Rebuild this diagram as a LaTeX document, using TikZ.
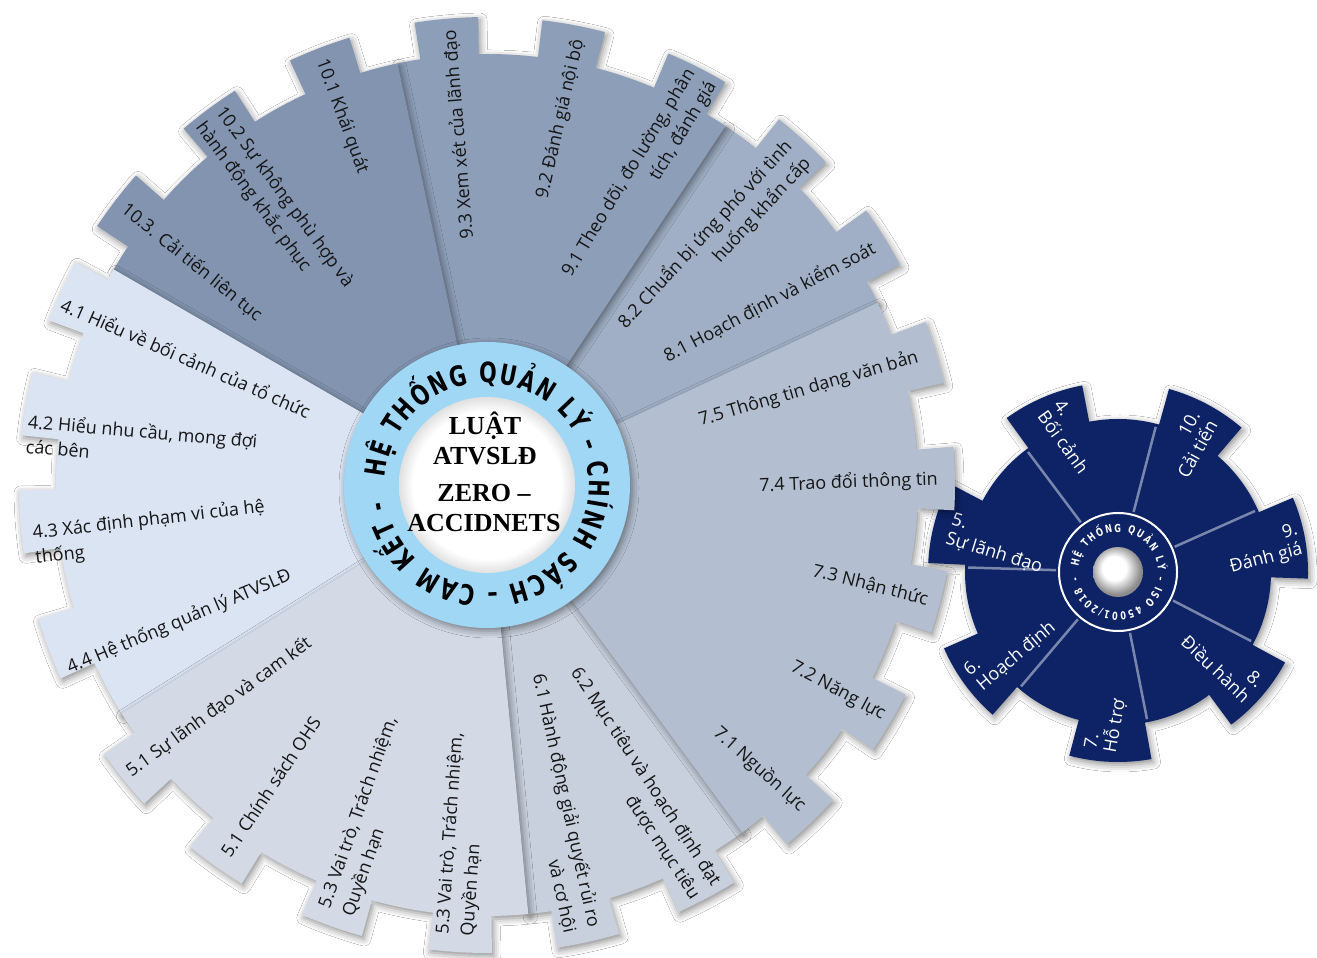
\documentclass[tikz,border=0pt]{standalone}
\usepackage{fontspec}
\setmainfont{Open Sans}
\newfontfamily\ringfont{DejaVu Sans}[FakeStretch=0.74]
\newfontfamily\ctrfont{Liberation Serif}
\usetikzlibrary{shadows.blur,decorations.text}
\definecolor{gfour}{HTML}{DBE4F3}
\definecolor{gfive}{HTML}{D3DAE6}
\definecolor{gsix}{HTML}{C8D0DD}
\definecolor{gseven}{HTML}{B3BFD0}
\definecolor{geight}{HTML}{A0AFC5}
\definecolor{gnine}{HTML}{8D9EB8}
\definecolor{gten}{HTML}{8294AF}
\definecolor{ringblue}{HTML}{A0D7F5}
\definecolor{navy}{HTML}{0D2366}
\definecolor{labtext}{HTML}{151515}
\pgfdeclareradialshading{innerglow}{\pgfpoint{0bp}{0bp}}{color(0bp)=(white); color(21bp)=(white); color(25bp)=(black!12); color(50bp)=(black!12)}
\pgfdeclareradialshading{button}{\pgfpoint{-5bp}{5bp}}{color(0bp)=(white); color(12bp)=(white); color(25bp)=(black!45); color(50bp)=(black!45)}
\newcommand\gearsector[4]{%
  \path[#1] (0,0) -- (#2:431) arc[start angle=#2, end angle=#3, radius=431] -- cycle
  foreach \ang in {#4} {
    (\ang-3.9:424) -- (\ang-3.9:468)
    arc[start angle=\ang-3.9, end angle=\ang+3.9, radius=468]
    -- (\ang+3.9:424)
    arc[start angle=\ang+3.9, end angle=\ang-3.9, radius=424] -- cycle
  };%
}
\begin{document}
\begin{tikzpicture}[x=1pt,y=1pt,
  gshadow/.style={blur shadow={shadow xshift=2pt,shadow yshift=-3pt,shadow blur radius=7pt,shadow opacity=45}},
  lab/.style={font=\fontsize{18}{25}\selectfont, text=labtext, inner sep=0pt},
  labr/.style={lab, anchor=east, align=right},
  labl/.style={lab, anchor=west, align=left},
  slab/.style={font=\fontsize{18}{20}\selectfont, text=white, inner sep=0pt},
  slabr/.style={slab, anchor=east, align=right},
  slabl/.style={slab, anchor=west, align=left},
  ctr/.style={font=\ctrfont\bfseries\fontsize{26}{30}\selectfont, align=center, inner sep=0pt, text=black}]
\useasboundingbox (0,0) rectangle (1317,958);
\fill[white] (0,0) rectangle (1317,958);

% ---------- small gear ----------
\begin{scope}[shift={(1118,386)}]
 \path[fill=navy, gshadow] (0,0) circle (153)
   foreach \ang in {10.5,61.93,113.36,164.79,216.21,267.64,319.07} {
    (\ang-12.5:148) -- (\ang-12.5:190)
    arc[start angle=\ang-12.5, end angle=\ang+12.5, radius=190]
    -- (\ang+12.5:148)
    arc[start angle=\ang+12.5, end angle=\ang-12.5, radius=148] -- cycle};
 \foreach \a in {24,75.43,126.86,178.29,229.71,281.14,332.57}
   \draw[white, opacity=0.45, line width=2.5pt] (\a:62) -- (\a:150);
 \path[fill=navy, draw=white, line width=2pt] (0,0) circle (59);
 \path[decorate, decoration={text along path, text align={fit to path}, text color=white,
   text={|\ringfont\bfseries\fontsize{11}{11}\selectfont|HỆ THỐNG QUẢN LÝ – ISO 45001/2018 -}}]
   (172:40) arc[start angle=172, end angle=-172, radius=40];
 \shade[shading=button] (0,0) circle (25);
\end{scope}

\node[slabl, rotate=-54] (s4) at (1050,551) {4.\\Bối cảnh};
\node[slabr, rotate=61] (s10) at (1204,541) {10.\\Cải tiến};
\node[slabr, rotate=14.6] (s9) at (1300,418) {9.\\Đánh giá};
\node[slabr, rotate=-43.7] (s8) at (1254,266) {8.\\Điều hành};
\node[slabl, rotate=80] (s7) at (1101,207) {7.\\Hỗ trợ};
\node[slabl, rotate=40] (s6) at (973,278) {6.\\Hoạch định};
\node[slabl, rotate=-17] (s5) at (949,429) {5.\\Sự lãnh đạo};

% ---------- big gear ----------
\begin{scope}[shift={(487,473)}]
 \gearsector{fill=gsix, gshadow}{275.5}{306.3}{282.5,298}
 \gearsector{fill=geight, gshadow}{25}{56.4}{32,47.5}
 \gearsector{fill=gseven, gshadow}{306.3}{385}{313.8,329.5,345.5,360.8,376.5}
 \gearsector{fill=gnine, gshadow}{56.4}{102}{63.3,79.3,95}
 \gearsector{fill=gten, gshadow}{102}{150}{111,126.5,142.5}
 \gearsector{fill=gfour, gshadow}{150}{212}{155.5,170,184.5,200.5}
 \gearsector{fill=gfive, gshadow}{212}{275.5}{219,234.5,250.6,266.7}
 \path[fill=ringblue, gshadow] (0,0) circle (143);
 \shade[shading=innerglow] (0,0) circle (88);
 \path[decorate, decoration={text along path, text align={fit to path}, text color=black,
   text={|\ringfont\bfseries\fontsize{28}{28}\selectfont|HỆ THỐNG QUẢN LÝ – CHÍNH SÁCH – CAM KẾT -}}]
   (176:102) arc[start angle=176, end angle=-171, radius=102];
\end{scope}

\node[ctr] (ctra) at (485,520) {LUẬT\\ATVSLĐ};
\node[ctr] (ctrb) at (484,450) {ZERO –\\ACCIDNETS};

\node[labr, rotate=16.3] (l75) at (918,601) {7.5 Thông tin dạng văn bản};
\node[labr, rotate=2.2] (l74) at (938,479) {7.4 Trao đổi thông tin};
\node[labr, rotate=-14.1] (l73) at (928,358) {7.3 Nhận thức};
\node[labr, rotate=-28.3] (l72) at (884,242) {7.2 Năng lực};
\node[labr, rotate=-41.6] (l71) at (803,150) {7.1 Nguồn lực};
\node[labr, rotate=27.7] (l81) at (874,711) {8.1 Hoạch định và kiểm soát};
\node[labr, rotate=47.4] (l82) at (798,806) {8.2 Chuẩn bị ứng phó với tình\\huống khẩn cấp};
\node[labr, rotate=58.8] (l91) at (702,881) {9.1 Theo dõi, đo lường, phân\\tích, đánh giá};
\node[labr, rotate=77.1] (l92) at (579,918) {9.2 Đánh giá nội bộ};
\node[labr, rotate=94.7] (l93) at (450,928) {9.3 Xem xét của lãnh đạo};
\node[labr, rotate=-77.6] (l61) at (582,28) {6.1 Hành động giải quyết rủi ro\\và cơ hội};
\node[labr, rotate=-56.6] (l62) at (706,67) {6.2 Mục tiêu và hoạch định đạt\\được mục tiêu};
\node[labl, rotate=-69.7] (l101) at (321,898) {10.1 Khái quát};
\node[labl, rotate=-53.5] (l102) at (209,841) {10.2 Sự không phù hợp và\\hành động khắc phục};
\node[labl, rotate=-39.1] (l103) at (124,751) {10.3. Cải tiến liên tục};
\node[labl, rotate=-23.7] (l41) at (62,655) {4.1 Hiểu về bối cảnh của tổ chức};
\node[labl, rotate=-4.9] (l42) at (27,525) {4.2 Hiểu nhu cầu, mong đợi\\các bên};
\node[labl, rotate=6.5] (l43) at (34,412) {4.3 Xác định phạm vi của hệ\\thống};
\node[labl, rotate=22.9] (l44) at (68,289) {4.4 Hệ thống quản lý ATVSLĐ};
\node[labl, rotate=36] (l51a) at (128,185) {5.1 Sự lãnh đạo và cam kết};
\node[labl, rotate=56.2] (l51b) at (225,103) {5.1 Chính sách OHS};
\node[labl, rotate=70.5] (l53a) at (337,46) {5.3 Vai trò, Trách nhiệm,\\Quyền hạn};
\node[labl, rotate=86] (l53b) at (456,23) {5.3 Vai trò, Trách nhiệm,\\Quyền hạn};
\end{tikzpicture}
\end{document}
